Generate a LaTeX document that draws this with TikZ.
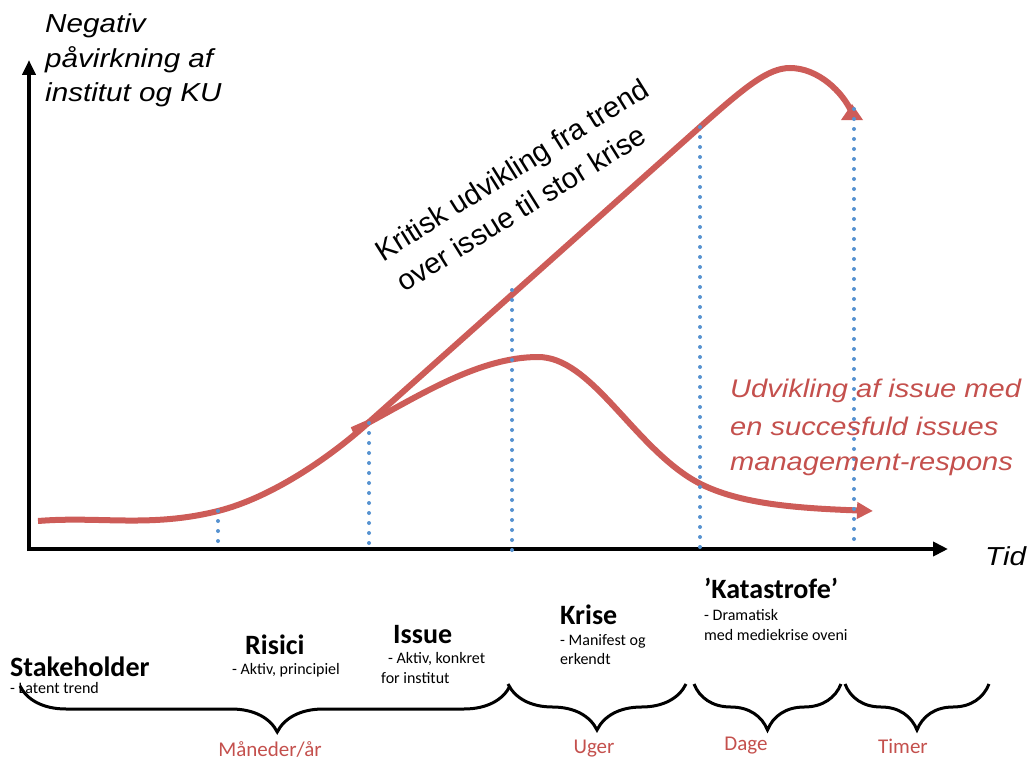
\documentclass[tikz,border=0pt]{standalone}
\usepackage{fontspec}
\setmainfont{Carlito}
\newfontfamily\arialfont[FakeStretch=1.14]{Liberation Sans}
\newfontfamily\arialrot{Liberation Sans}
\usetikzlibrary{arrows.meta,decorations.pathreplacing}
\definecolor{kurverod}{RGB}{205,92,88}
\definecolor{tekstrod}{RGB}{196,80,77}
\definecolor{prikblaa}{RGB}{86,146,208}

\begin{document}
\begin{tikzpicture}[x=1pt,y=-1pt,
    akse/.style={line width=4.5pt},
    kurve/.style={kurverod,line width=6pt},
    prikker/.style={prikblaa,line width=4pt,line cap=round,dash pattern=on 0pt off 10pt},
    tuborg/.style={line width=3pt,decorate,decoration={brace,mirror,amplitude=46pt,aspect=#1}},
    tuborg/.default=0.5,
    aksetekst/.style={anchor=base west,inner sep=0pt,font=\arialfont\itshape\fontsize{26}{30}\selectfont},
    roedtekst/.style={aksetekst,tekstrod,font=\arialfont\itshape\fontsize{25.5}{30}\selectfont},
    skraatekst/.style={rotate=32,inner sep=0pt,font=\arialrot\fontsize{29}{34}\selectfont},
    fase/.style={anchor=base west,inner sep=0pt,font=\bfseries\fontsize{28}{30}\selectfont},
    note/.style={anchor=base west,inner sep=0pt,font=\fontsize{16}{18}\selectfont},
    periode/.style={anchor=base,inner sep=0pt,tekstrod,font=\fontsize{21}{24}\selectfont}]

  \useasboundingbox (0,0) rectangle (1029,760);

  % akser
  \draw[akse,-{Triangle[width=13pt,length=15pt]}] (29,551) -- (29,60);
  \draw[akse,-{Triangle[width=14pt,length=15pt]}] (27,549) -- (948,549);

  % kurverne
  \draw[kurve] (38,521) .. controls (100,516) and (150,528) .. (218,511)
    .. controls (270,498) and (328,459) .. (368,423) -- (700,127)
    .. controls (745,87) and (768,68) .. (790,68)
    .. controls (818,68) and (843,92) .. (852,113);
  \fill[kurverod] (841,120) -- (852,104) -- (863,120) -- cycle;
  \draw[kurve,-{Triangle[width=16pt,length=16pt]}] (352,430) -- (368,423)
    .. controls (420,395) and (480,357) .. (538,357)
    .. controls (590,357) and (630,440) .. (690,478)
    .. controls (730,503) and (790,508) .. (873,511);

  % stiplede linjer
  \foreach \x/\ytop/\ybund in {218/511/541, 369/423/544, 512/290/555, 700/127/555, 854/109/548}
    \draw[prikker] (\x,\ytop) -- (\x,\ybund);

  % tekster
  \node[aksetekst] (ytekst1) at (45,33) {Negativ};
  \node[aksetekst] (ytekst2) at (45,67) {påvirkning af};
  \node[aksetekst] (ytekst3) at (45,102) {institut og KU};
  \node[aksetekst] (xtekst) at (985,565) {Tid};

  \node[skraatekst] (kritisk1) at (513,172) {Kritisk udvikling fra trend};
  \node[skraatekst] (kritisk2) at (521,208) {over issue til stor krise};

  \node[roedtekst] (udv1) at (730,397) {Udvikling af issue med};
  \node[roedtekst] (udv2) at (730,435) {en succesfuld issues};
  \node[roedtekst] (udv3) at (730,470) {management-respons};

  % faser
  \node[fase] (stake) at (10,676) {Stakeholder};
  \node[note] (stake1) at (10,693) {- Latent trend};
  \node[fase] (risici) at (245,654) {Risici};
  \node[note] (risici1) at (232,674) {- Aktiv, principiel};
  \node[fase] (issue) at (393,643) {Issue};
  \node[note] (issue1) at (388,663) {- Aktiv, konkret};
  \node[note] (issue2) at (381,683) {for institut};
  \node[fase] (krise) at (560,624) {Krise};
  \node[note] (krise1) at (560,645) {- Manifest og};
  \node[note] (krise2) at (560,664) {erkendt};
  \node[fase] (kata) at (704,598) {’Katastrofe’};
  \node[note] (kata1) at (704,620) {- Dramatisk};
  \node[note] (kata2) at (704,640) {med mediekrise oveni};

  % tuborger og tid
  \draw[tuborg=0.525] (20,686) -- (510,686);
  \draw[tuborg] (508,684) -- (686,684);
  \draw[tuborg] (694,684) -- (841,684);
  \draw[tuborg] (845,684) -- (989,684);
  \node[periode] (maaned) at (270,756) {Måneder/år};
  \node[periode] (uger) at (594,753) {Uger};
  \node[periode] (dage) at (746,750) {Dage};
  \node[periode] (timer) at (903,753) {Timer};
\end{tikzpicture}
\end{document}
